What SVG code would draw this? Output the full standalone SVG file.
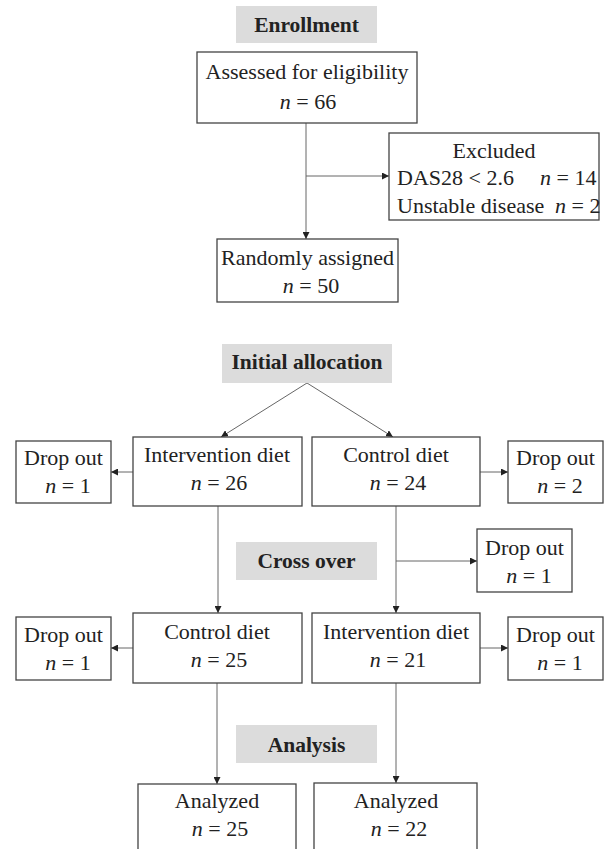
<svg xmlns="http://www.w3.org/2000/svg" width="606" height="849" viewBox="0 0 606 849">
<style>
.box{fill:#fff;stroke:#444;stroke-width:1.3}
.hd{fill:#dcdcdc}
text{font-family:"Liberation Serif","Times New Roman",serif;font-size:22px;fill:#222}
.b{font-weight:bold;font-size:21.5px}
.c{text-anchor:middle}
.i{font-style:italic}
.ln{stroke:#666;stroke-width:1;fill:none}
</style>
<defs>
<marker id="ar" viewBox="0 0 10 10" refX="10" refY="5" markerWidth="7" markerHeight="7" markerUnits="userSpaceOnUse" orient="auto">
<path d="M0,0L10,5L0,10z" fill="#222"/>
</marker>
</defs>
<rect width="606" height="849" fill="#fff"/>
<g id="connectors">
<path class="ln" d="M306,123V239" marker-end="url(#ar)"/>
<path class="ln" d="M306,176H389" marker-end="url(#ar)"/>
<path class="ln" d="M307,383L221,437" marker-end="url(#ar)"/>
<path class="ln" d="M307,383L393,437" marker-end="url(#ar)"/>
<path class="ln" d="M133,472H111" marker-end="url(#ar)"/>
<path class="ln" d="M480,472H508" marker-end="url(#ar)"/>
<path class="ln" d="M218,506V613" marker-end="url(#ar)"/>
<path class="ln" d="M396,506V613" marker-end="url(#ar)"/>
<path class="ln" d="M396,561H477" marker-end="url(#ar)"/>
<path class="ln" d="M133,648H111" marker-end="url(#ar)"/>
<path class="ln" d="M480,648H508" marker-end="url(#ar)"/>
<path class="ln" d="M217,683V784" marker-end="url(#ar)"/>
<path class="ln" d="M396,683V783" marker-end="url(#ar)"/>
</g>
<g id="enrollment">
<rect class="hd" x="236" y="6" width="141" height="37"/>
<text class="b c" x="306.5" y="32">Enrollment</text>
</g>
<g id="assessed">
<rect class="box" x="197" y="52" width="220" height="71"/>
<text class="c" x="307" y="79">Assessed for eligibility</text>
<text class="c" x="308" y="109"><tspan class="i">n</tspan> = 66</text>
</g>
<g id="excluded">
<rect class="box" x="389" y="133" width="210" height="87"/>
<text class="c" x="494" y="158">Excluded</text>
<text x="397" y="185">DAS28 &lt; 2.6</text>
<text x="540" y="185"><tspan class="i">n</tspan> = 14</text>
<text x="397" y="213">Unstable disease</text>
<text x="555" y="213"><tspan class="i">n</tspan> = 2</text>
</g>
<g id="randomly">
<rect class="box" x="217" y="239" width="181" height="63"/>
<text class="c" x="307.5" y="265">Randomly assigned</text>
<text class="c" x="311" y="293"><tspan class="i">n</tspan> = 50</text>
</g>
<g id="initial">
<rect class="hd" x="222" y="344" width="170" height="39"/>
<text class="b c" x="307" y="369">Initial allocation</text>
</g>
<g id="intervention1">
<rect class="box" x="133" y="437" width="169" height="69"/>
<text class="c" x="217" y="462">Intervention diet</text>
<text class="c" x="219" y="490"><tspan class="i">n</tspan> = 26</text>
</g>
<g id="control1">
<rect class="box" x="312" y="437" width="168" height="69"/>
<text class="c" x="396" y="462">Control diet</text>
<text class="c" x="398" y="490"><tspan class="i">n</tspan> = 24</text>
</g>
<g id="dropout1">
<rect class="box" x="16" y="441" width="95" height="62"/>
<text class="c" x="63.5" y="465">Drop out</text>
<text class="c" x="68" y="493"><tspan class="i">n</tspan> = 1</text>
</g>
<g id="dropout2">
<rect class="box" x="508" y="441" width="95" height="62"/>
<text class="c" x="555.5" y="465">Drop out</text>
<text class="c" x="560" y="493"><tspan class="i">n</tspan> = 2</text>
</g>
<g id="crossover">
<rect class="hd" x="236" y="542" width="141" height="38"/>
<text class="b c" x="306.5" y="568">Cross over</text>
</g>
<g id="dropout3">
<rect class="box" x="477" y="529" width="95" height="63"/>
<text class="c" x="524.5" y="555">Drop out</text>
<text class="c" x="529" y="583"><tspan class="i">n</tspan> = 1</text>
</g>
<g id="control2">
<rect class="box" x="133" y="613" width="169" height="70"/>
<text class="c" x="217" y="639">Control diet</text>
<text class="c" x="219" y="667"><tspan class="i">n</tspan> = 25</text>
</g>
<g id="intervention2">
<rect class="box" x="312" y="613" width="168" height="70"/>
<text class="c" x="396" y="639">Intervention diet</text>
<text class="c" x="398" y="667"><tspan class="i">n</tspan> = 21</text>
</g>
<g id="dropout4">
<rect class="box" x="16" y="617" width="95" height="63"/>
<text class="c" x="63.5" y="642">Drop out</text>
<text class="c" x="68" y="670"><tspan class="i">n</tspan> = 1</text>
</g>
<g id="dropout5">
<rect class="box" x="508" y="617" width="95" height="63"/>
<text class="c" x="555.5" y="642">Drop out</text>
<text class="c" x="560" y="670"><tspan class="i">n</tspan> = 1</text>
</g>
<g id="analysis">
<rect class="hd" x="236" y="725" width="141" height="38"/>
<text class="b c" x="306.5" y="752">Analysis</text>
</g>
<g id="analyzed1">
<rect class="box" x="138" y="784" width="158" height="80"/>
<text class="c" x="217" y="808">Analyzed</text>
<text class="c" x="220" y="836"><tspan class="i">n</tspan> = 25</text>
</g>
<g id="analyzed2">
<rect class="box" x="314" y="783" width="163" height="80"/>
<text class="c" x="396" y="808">Analyzed</text>
<text class="c" x="399" y="836"><tspan class="i">n</tspan> = 22</text>
</g>
</svg>
